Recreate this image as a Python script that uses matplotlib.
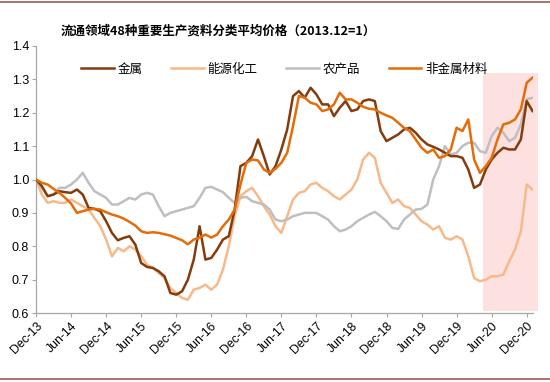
import matplotlib.pyplot as plt
from matplotlib.lines import Line2D

plt.rcParams['font.family'] = ['Noto Sans CJK SC', 'DejaVu Sans']

# 月份序号：0 = 2013年12月
months = list(range(86))

metal = [1.00, 0.98, 0.95, 0.955, 0.965, 0.962, 0.96, 0.97, 0.955, 0.915,
         0.912, 0.905, 0.875, 0.84, 0.818, 0.825, 0.83, 0.805, 0.75, 0.738,
         0.735, 0.725, 0.71, 0.66, 0.655, 0.665, 0.70, 0.76, 0.86, 0.76,
         0.765, 0.79, 0.82, 0.83, 0.91, 1.04, 1.05, 1.07, 1.12, 1.07,
         1.015, 1.04, 1.09, 1.15, 1.25, 1.265, 1.245, 1.275, 1.255, 1.225,
         1.225, 1.19, 1.215, 1.235, 1.205, 1.21, 1.235, 1.24, 1.235, 1.145,
         1.115, 1.125, 1.135, 1.15, 1.155, 1.14, 1.12, 1.105, 1.098, 1.09,
         1.08, 1.07, 1.07, 1.065, 1.03, 0.975, 0.985, 1.03, 1.06, 1.08,
         1.095, 1.09, 1.09, 1.12, 1.235, 1.205]

energy = [1.00, 0.955, 0.93, 0.935, 0.93, 0.93, 0.94, 0.93, 0.92, 0.91,
          0.885, 0.86, 0.82, 0.77, 0.795, 0.785, 0.80, 0.79, 0.77, 0.745,
          0.735, 0.72, 0.705, 0.675, 0.66, 0.645, 0.64, 0.67, 0.675, 0.685,
          0.67, 0.685, 0.73, 0.80, 0.89, 0.95, 0.965, 0.975, 0.95, 0.92,
          0.895, 0.86, 0.84, 0.89, 0.94, 0.96, 0.965, 0.985, 0.99, 0.975,
          0.965, 0.95, 0.94, 0.955, 0.97, 1.00, 1.06, 1.08, 1.065, 0.99,
          0.96, 0.93, 0.94, 0.92, 0.915, 0.895, 0.875, 0.865, 0.85, 0.86,
          0.825, 0.82, 0.83, 0.82, 0.77, 0.705, 0.695, 0.70, 0.71, 0.71,
          0.715, 0.755, 0.79, 0.845, 0.985, 0.97]

agri = [1.00, 0.975, 0.95, 0.955, 0.975, 0.975, 0.985, 1.00, 1.02, 0.99,
        0.965, 0.955, 0.945, 0.925, 0.925, 0.935, 0.945, 0.94, 0.955, 0.96,
        0.955, 0.92, 0.89, 0.90, 0.905, 0.91, 0.915, 0.92, 0.945, 0.975,
        0.978, 0.97, 0.962, 0.945, 0.93, 0.945, 0.948, 0.935, 0.93, 0.925,
        0.91, 0.88, 0.875, 0.88, 0.89, 0.895, 0.90, 0.90, 0.90, 0.89,
        0.88, 0.86, 0.845, 0.85, 0.86, 0.875, 0.885, 0.895, 0.903, 0.89,
        0.875, 0.855, 0.852, 0.88, 0.895, 0.91, 0.912, 0.925, 1.00, 1.04,
        1.10, 1.075, 1.08, 1.10, 1.11, 1.11, 1.085, 1.08, 1.13, 1.155,
        1.14, 1.115, 1.125, 1.165, 1.24, 1.245]

nonmetal = [1.00, 0.99, 0.985, 0.972, 0.96, 0.945, 0.928, 0.90, 0.905, 0.91,
            0.912, 0.91, 0.902, 0.895, 0.89, 0.883, 0.873, 0.862, 0.845, 0.84,
            0.842, 0.84, 0.836, 0.832, 0.825, 0.818, 0.806, 0.82, 0.826, 0.835,
            0.826, 0.835, 0.86, 0.88, 0.91, 0.985, 1.05, 1.06, 1.057, 1.03,
            1.02, 1.032, 1.05, 1.08, 1.16, 1.25, 1.245, 1.23, 1.225, 1.205,
            1.21, 1.225, 1.26, 1.24, 1.24, 1.23, 1.218, 1.212, 1.21, 1.20,
            1.192, 1.185, 1.17, 1.155, 1.145, 1.12, 1.095, 1.08, 1.09, 1.065,
            1.07, 1.09, 1.155, 1.145, 1.18, 1.06, 1.02, 1.04, 1.065, 1.12,
            1.165, 1.17, 1.18, 1.21, 1.29, 1.305]

tick_pos = list(range(0, 85, 6))
tick_labels = ['Dec-13', 'Jun-14', 'Dec-14', 'Jun-15', 'Dec-15', 'Jun-16', 'Dec-16',
               'Jun-17', 'Dec-17', 'Jun-18', 'Dec-18', 'Jun-19', 'Dec-19', 'Jun-20',
               'Dec-20']

fig = plt.figure(figsize=(5.5, 3.82), dpi=100)
ax = fig.add_axes([0.0655, 0.1806, 0.9035, 0.699])

# 阴影区域
ax.axvspan(76.6, 86.0, ymin=0.0075, ymax=0.899, color='#FDE1E1', lw=0,
           clip_on=False, zorder=0)

ax.plot(months, metal, color='#843C0C', lw=1.8, label='金属', zorder=3)
ax.plot(months, energy, color='#F8B98A', lw=1.8, label='能源化工', zorder=2)
ax.plot(months, agri, color='#BFBFBF', lw=1.8, label='农产品', zorder=2)
ax.plot(months, nonmetal, color='#E46C0A', lw=1.8, label='非金属材料', zorder=3)

ax.set_xlim(0, 85.07)
ax.set_ylim(0.6, 1.4)
ax.set_yticks([0.6, 0.7, 0.8, 0.9, 1.0, 1.1, 1.2, 1.3, 1.4])
ax.set_yticklabels(['0.6', '0.7', '0.8', '0.9', '1.0', '1.1', '1.2', '1.3', '1.4'],
                   fontsize=9, family='Liberation Sans')
ax.set_xticks(tick_pos)
ax.set_xticklabels(tick_labels, rotation=45, ha='right', rotation_mode='anchor',
                   fontsize=8.8, family='Liberation Sans')
ax.tick_params(axis='both', length=3, width=0.8, color='#A6A6A6', pad=2)
for s in ['top', 'right']:
    ax.spines[s].set_visible(False)
for s in ['left', 'bottom']:
    ax.spines[s].set_color('#A6A6A6')
    ax.spines[s].set_linewidth(0.9)

ax.legend(loc='upper center', bbox_to_anchor=(0.5, 0.98), ncol=4, frameon=False,
          fontsize=9, handlelength=2.6, handletextpad=0.3, columnspacing=2.3)

fig.text(0.396, 0.919, '流通领域48种重要生产资料分类平均价格（2013.12=1）',
         ha='center', va='center', fontsize=9, fontweight='bold')

# 上下装饰线
fig.add_artist(Line2D([0, 1], [1 - 1.5 / 382, 1 - 1.5 / 382], color='#A05A58', lw=1.2))
fig.add_artist(Line2D([0, 1], [1 - 378.5 / 382, 1 - 378.5 / 382], color='#A05A58', lw=1.2))

fig.savefig('out.png', dpi=100)
